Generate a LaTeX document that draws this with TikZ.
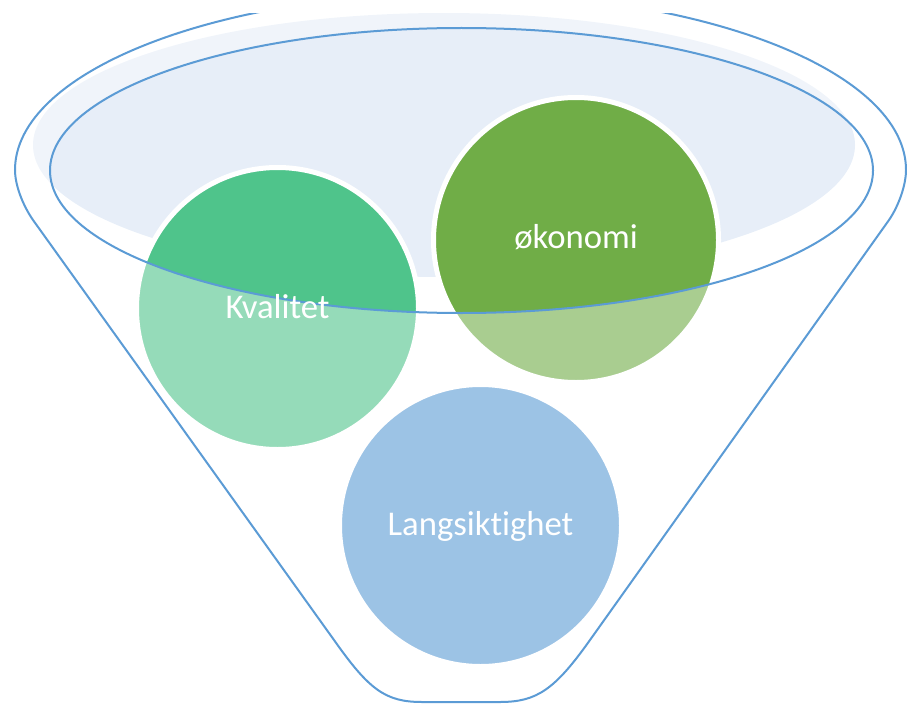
\documentclass[tikz,border=0pt]{standalone}
\usepackage{fontspec}
\setmainfont{Carlito}[Ligatures=NoCommon]
\definecolor{funline}{HTML}{5B9BD5}
\definecolor{funfill}{HTML}{E7EEF8}
\definecolor{kvgreen}{HTML}{4FC48B}
\definecolor{okgreen}{HTML}{70AD47}
\definecolor{lsblue}{HTML}{5B9BD5}
\newcommand\funneloutline{(15,170) .. controls (15,72.2) and (214.5,-7) .. (460.5,-7)
  .. controls (706.5,-7) and (906,72.2) .. (906,170)
  .. controls (906,184.4) and (899.2,205) .. (889,220)
  -- (590,640)
  .. controls (554.8,689.6) and (536.8,702) .. (500,702)
  -- (422,702)
  .. controls (385.2,702) and (369,689.6) .. (334,640)
  -- (33,220)
  .. controls (22.2,204.4) and (15,184.4) .. (15,170) -- cycle}
\tikzset{
  ball/.style={circle, draw=white, line width=5pt, inner sep=0pt},
  funstroke/.style={draw=funline, line width=2pt},
  lbl/.style={text=white, inner sep=0pt, anchor=base, font=\fontsize{34.7}{40}\selectfont}
}
\begin{document}
\begin{tikzpicture}[x=1pt,y=-1pt]
\useasboundingbox (0,0) rectangle (907,706);
\begin{scope}
\clip (0,14) rectangle (907,706);
% opening fill
\fill[funfill] (444,145) ellipse [x radius=411pt, y radius=132pt];
% balls
\node[ball, fill=kvgreen, minimum size=282pt] (kval) at (277.5,308.5) {};
\node[ball, fill=okgreen, minimum size=285pt] (okon) at (576,240) {};
\node[ball, fill=lsblue, minimum size=282pt] (lang) at (480.5,525.5) {};
% funnel body (translucent white)
\fill[white, fill opacity=0.4, even odd rule] \funneloutline
  (461.5,170.5) ellipse [x radius=411.5pt, y radius=142.5pt];
% outlines
\draw[funstroke] \funneloutline;
\draw[funstroke] (461.5,170.5) ellipse [x radius=411.5pt, y radius=142.5pt];
\end{scope}
% labels
\node[lbl] (tkval) at ([yshift=-9.5pt]kval.center) {Kvalitet};
\node[lbl] (tokon) at ([yshift=-8pt]okon.center) {økonomi};
\node[lbl] (tlang) at ([yshift=-9.5pt]lang.center) {Langsiktighet};
\end{tikzpicture}
\end{document}
